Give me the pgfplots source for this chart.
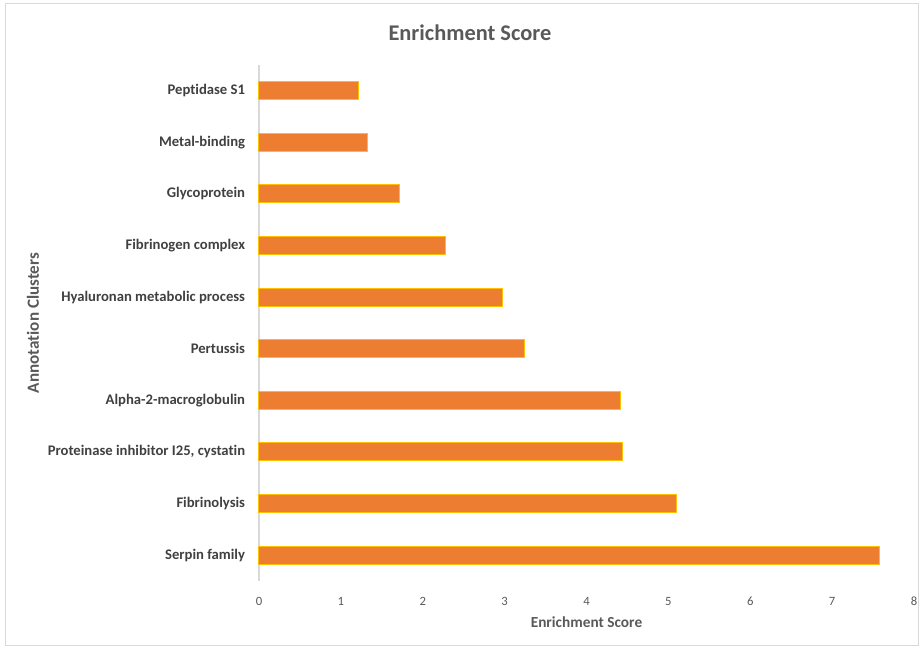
\documentclass[border=0pt]{standalone}
\usepackage{pgfplots}
\pgfplotsset{compat=1.18}
\usepackage{fontspec}
\setmainfont{Carlito}[Ligatures={NoCommon}]
\definecolor{barfill}{HTML}{ED7D31}
\definecolor{baredge}{HTML}{FFC000}
\definecolor{txtdark}{HTML}{404040}
\definecolor{txtgray}{HTML}{595959}
\definecolor{linegray}{HTML}{D9D9D9}
\begin{document}
\begin{tikzpicture}
\useasboundingbox (0,0) rectangle (691.5pt,489pt);
\draw[linegray, line width=0.75pt] (3.75pt,4.5pt) rectangle (688.5pt,486pt);
\begin{axis}[
  at={(194.25pt,53.25pt)}, anchor=south west,
  scale only axis, width=491.25pt, height=387pt,
  xbar, bar width=13.5pt,
  xmin=0, xmax=8, ymin=-0.5, ymax=9.5,
  xtick={0,1,...,8},
  ytick={0,...,9},
  yticklabels={Serpin family, Fibrinolysis, {Proteinase inhibitor I25, cystatin}, Alpha-2-macroglobulin, Pertussis, Hyaluronan metabolic process, Fibrinogen complex, Glycoprotein, Metal-binding, Peptidase S1},
  axis x line*=bottom,
  axis y line*=left,
  x axis line style={draw=none},
  y axis line style={draw=linegray, line width=1pt, -},
  tick style={draw=none},
  /pgf/number format/assume math mode=true,
  xticklabel style={font=\fontsize{9.5}{11}\selectfont, text=txtgray, anchor=center, yshift=-15pt},
  yticklabel style={font=\bfseries\fontsize{11}{13}\selectfont, text=txtdark, anchor=east, inner sep=0pt, xshift=-6pt},
  xlabel={Enrichment Score},
  xlabel style={font=\bfseries\fontsize{11.5}{13}\selectfont, text=txtgray, at={(axis description cs:0.5,-0.0795)}, anchor=center},
  ylabel={Annotation Clusters},
  ylabel style={font=\bfseries\fontsize{12.8}{15}\selectfont, text=txtgray, at={(axis description cs:-0.345,0.5)}, anchor=center, rotate=0},
  title={Enrichment Score},
  title style={font=\bfseries\fontsize{16.8}{20}\selectfont, text=txtgray, at={(axis description cs:0.322,1.047)}, anchor=center},
  clip=false,
]
\addplot[fill=barfill, draw=baredge, line width=0.75pt] coordinates {
  (7.58,0) (5.10,1) (4.44,2) (4.42,3) (3.24,4) (2.98,5) (2.28,6) (1.72,7) (1.32,8) (1.22,9)
};
\end{axis}
\end{tikzpicture}
\end{document}
